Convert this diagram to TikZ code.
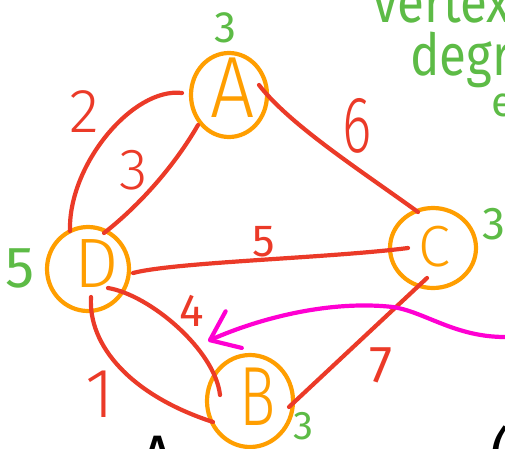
\documentclass[tikz,border=0pt]{standalone}
\usepackage{fontspec}
\setmainfont{Fira Sans}
\newfontfamily\handlight{Fira Sans}[UprightFont=* Light]
\usetikzlibrary{calc,arrows.meta,shapes.geometric}
\definecolor{ored}{RGB}{235,58,40}
\definecolor{oorange}{RGB}{255,158,0}
\definecolor{ogreen}{RGB}{93,187,70}
\definecolor{omag}{RGB}{255,0,210}
\newcommand\hsz[1]{\fontsize{#1}{#1}\selectfont}
\begin{document}
\begin{tikzpicture}[x=1pt,y=-1pt,
  edge/.style={draw=ored,line width=4.2pt,line cap=round},
  vert/.style={draw=oorange,line width=4.2pt,ellipse,inner sep=0pt},
  lett/.style={text=oorange,inner sep=0pt},
  wlab/.style={text=ored,inner sep=0pt},
  dlab/.style={text=ogreen,inner sep=0pt},
  pointer/.style={draw=omag,line width=4.2pt,line cap=round,
    -{Straight Barb[length=26pt,width=40pt,round]}}
]
\useasboundingbox (0,0) rectangle (505,448);
\clip (0,0) rectangle (505,448);

% vertices
\node[vert,minimum width=76pt,minimum height=84pt] (A) at (229,95) {};
\node[vert,minimum width=82pt,minimum height=84pt] (D) at (88,269) {};
\node[vert,minimum width=86pt,minimum height=80pt] (C) at (433,248) {};
\node[vert,minimum width=86pt,minimum height=92pt] (B) at (250,401) {};

\node[lett,font=\handlight\hsz{87}] (lA) at (233,88) {\scalebox{0.9}[1]{A}};
\node[lett,font=\handlight\hsz{70}] (lD) at (97,264) {D};
\node[lett,font=\handlight\hsz{58}] (lC) at (434,247) {C};
\node[lett,font=\handlight\hsz{84}] (lB) at (258,397) {\scalebox{0.72}[1]{B}};

% edges
\draw[edge] ($(A)+(-47,-2)$) .. controls (133,87) and (68,165) .. ($(D)+(-18,-38)$);
\draw[edge] ($(A)+(-31,30)$) .. controls (175,165) and (140,205) .. ($(D)+(16,-36)$);
\draw[edge] ($(A)+(30,-10)$) .. controls (290,125) and (360,170) .. ($(C)+(-15,-36)$);
\draw[edge] ($(D)+(45,4)$) .. controls (175,262) and (330,258) .. ($(C)+(-25,0)$);
\draw[edge] ($(D)+(20,19)$) .. controls (150,295) and (215,350) .. ($(B)+(-30,-6)$);
\draw[edge] ($(D)+(3,28)$) .. controls (88,345) and (130,395) .. ($(B)+(-37,21)$);
\draw[edge] ($(C)+(-6,30)$) -- ($(B)+(39,6)$);

% weights
\node[wlab,font=\handlight\hsz{62}] (w2) at (84,112) {2};
\node[wlab,font=\handlight\hsz{58}] (w3) at (134,170) {3};
\node[wlab,font=\handlight\hsz{80}] (w6) at (357,126) {\scalebox{0.7}[1]{6}};
\node[wlab,font=\hsz{45}] (w5) at (264,242) {5};
\node[wlab,font=\hsz{46}] (w4) at (192,311) {4};
\node[wlab,font=\handlight\hsz{70}] (w1) at (100,394) {1};
\node[wlab,font=\hsz{52}] (w7) at (381,365) {7};

% degrees
\node[dlab,font=\hsz{44}] (dA) at (225,28) {3};
\node[dlab,font=\hsz{58}] (dD) at (20,268) {5};
\node[dlab,font=\hsz{46}] (dC) at (494,224) {3};
\node[dlab,font=\hsz{40}] (dB) at (303,426) {3};

% pointer
\coordinate (m0) at (505,337);
\coordinate (mt) at (208,341);
\draw[pointer] (m0) .. controls (455,337) and (425,312) .. (393,307)
  .. controls (330,300) and (260,318) .. (mt);

% cut-off notes
\node[dlab,font=\hsz{58},anchor=base west] (t1) at (373,22) {\scalebox{0.85}[1]{vertex}};
\node[dlab,font=\hsz{58},anchor=base west] (t2) at (410,75) {\scalebox{0.85}[1]{degree}};
\node[dlab,font=\hsz{42},anchor=base west] (t3) at (491,116) {each};
\node[font=\hsz{60},anchor=north,inner sep=0pt] (bA) at (158,436) {A};
\node[font=\hsz{60},anchor=north,inner sep=0pt] (bp) at (500,426) {(};
\end{tikzpicture}
\end{document}
